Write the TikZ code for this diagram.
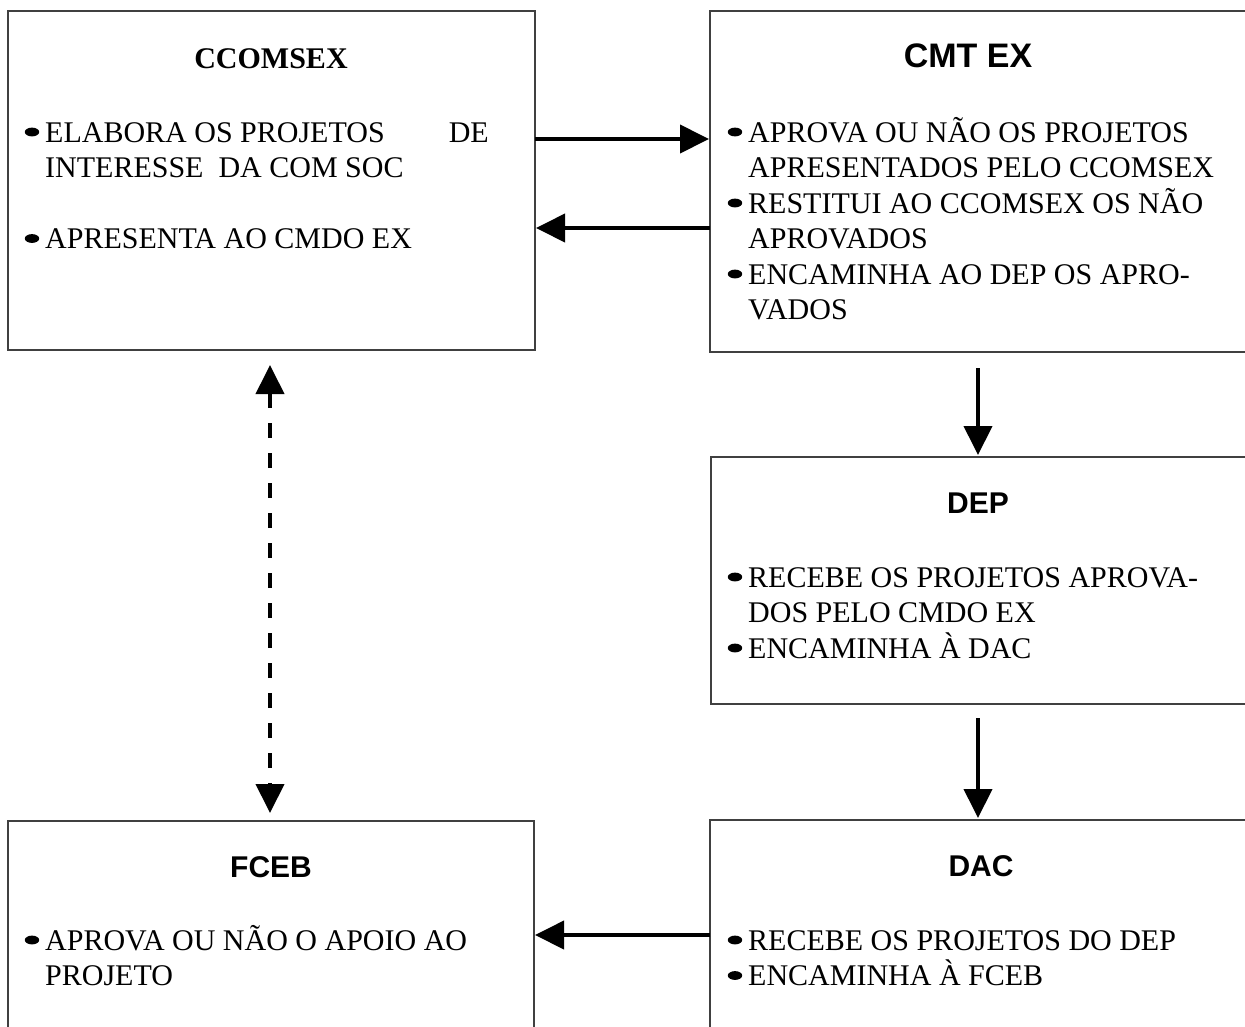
\documentclass[tikz,border=0pt]{standalone}
\usepackage{fontspec}
\setmainfont{Liberation Serif}
\newfontfamily\arialfont{Liberation Sans}
\usetikzlibrary{arrows.meta}
\tikzset{
  box/.style={draw=black!75, line width=1.3pt, rectangle, inner sep=0pt, outer sep=0pt, anchor=north west},
  line/.style={anchor=base west, inner sep=0pt, font=\fontsize{30}{35}\selectfont},
  lineend/.style={anchor=base east, inner sep=0pt, font=\fontsize{30}{35}\selectfont},
  ttimes/.style={anchor=base, inner sep=0pt, font=\fontsize{30}{35}\selectfont\bfseries},
  tarial/.style={anchor=base, inner sep=0pt, font=\fontsize{30}{35}\selectfont\arialfont\bfseries},
  conn/.style={line width=4pt, -{Triangle[length=29pt,width=28pt]}},
  dconn/.style={line width=4pt, dash pattern=on 15pt off 15pt, {Triangle[length=29pt,width=28pt]}-{Triangle[length=29pt,width=28pt]}},
}
\newcommand{\blt}[2]{\fill (#1-13,#2-10) ellipse [x radius=7.2pt, y radius=4.4pt];}
\begin{document}
\begin{tikzpicture}[x=1pt,y=-1pt]
\useasboundingbox (0,0) rectangle (1245,1026);
\clip (0,0) rectangle (1245,1026);
\fill[white] (0,0) rectangle (1245,1026);
% boxes
\node[box, minimum width=527pt, minimum height=339pt] (ccomsex) at (8,11) {};
\node[box, minimum width=560pt, minimum height=341pt] (cmt) at (710,11) {};
\node[box, minimum width=560pt, minimum height=247pt] (dep) at (711,457) {};
\node[box, minimum width=526pt, minimum height=230pt] (fceb) at (8,821) {};
\node[box, minimum width=560pt, minimum height=230pt] (dac) at (710,820) {};
% CCOMSEX text
\node[ttimes] (t1) at (271,68) {CCOMSEX};
\node[line] (a1) at (45,142) {ELABORA OS PROJETOS};
\node[lineend] (a1b) at (489,142) {DE};
\node[line] (a2) at (45,177.5) {INTERESSE\ \ DA COM SOC};
\node[line] (a3) at (45,248.5) {APRESENTA AO CMDO EX};
\blt{45}{142}\blt{45}{248.5}
% CMT EX text
\node[tarial, font=\fontsize{34}{38}\selectfont\arialfont\bfseries] (t2) at (968,67) {CMT EX};
\node[line] (b1) at (748,142) {APROVA OU NÃO OS PROJETOS};
\node[line] (b2) at (748,177.5) {APRESENTADOS PELO CCOMSEX};
\node[line] (b3) at (748,213) {RESTITUI AO CCOMSEX OS NÃO};
\node[line] (b4) at (748,248.5) {APROVADOS};
\node[line] (b5) at (748,284) {ENCAMINHA AO DEP OS APRO-};
\node[line] (b6) at (748,319.5) {VADOS};
\blt{748}{142}\blt{748}{213}\blt{748}{284}
% DEP text
\node[tarial] (t3) at (978,513) {DEP};
\node[line] (c1) at (748,587) {RECEBE OS PROJETOS APROVA-};
\node[line] (c2) at (748,622.5) {DOS PELO CMDO EX};
\node[line] (c3) at (748,658) {ENCAMINHA À DAC};
\blt{748}{587}\blt{748}{658}
% FCEB text
\node[tarial] (t4) at (271,877) {FCEB};
\node[line] (d1) at (45,950) {APROVA OU NÃO O APOIO AO};
\node[line] (d2) at (45,985.5) {PROJETO};
\blt{45}{950}
% DAC text
\node[tarial] (t5) at (981,876) {DAC};
\node[line] (e1) at (748,950) {RECEBE OS PROJETOS DO DEP};
\node[line] (e2) at (748,985.5) {ENCAMINHA À FCEB};
\blt{748}{950}\blt{748}{985.5}
% connectors
\coordinate (r1) at (0,139);
\coordinate (r2) at (0,228);
\coordinate (r3) at (0,935);
\coordinate (cx) at (978,0);
\coordinate (lx) at (270,0);
\draw[conn] (ccomsex.east |- r1) -- ([xshift=-1pt]cmt.west |- r1);
\draw[conn] (cmt.west |- r2) -- ([xshift=1pt]ccomsex.east |- r2);
\draw[conn] ([yshift=-16pt]cmt.south -| cx) -- ([yshift=2pt]dep.north -| cx);
\draw[conn] ([yshift=-14pt]dep.south -| cx) -- ([yshift=2pt]dac.north -| cx);
\draw[conn] (dac.west |- r3) -- ([xshift=1pt]fceb.east |- r3);
\draw[dconn] ([yshift=-15pt]ccomsex.south -| lx) -- ([yshift=8pt]fceb.north -| lx);
\end{tikzpicture}
\end{document}
